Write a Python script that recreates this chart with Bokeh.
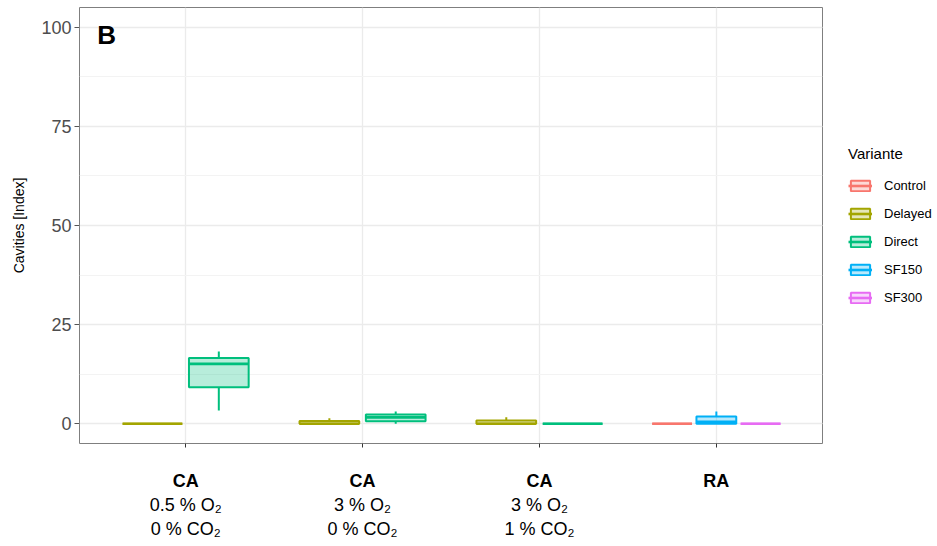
from bokeh.plotting import figure
from bokeh.models import (ColumnDataSource, Range1d, FixedTicker, SingleIntervalTicker,
                          LinearAxis, Legend, LegendItem, Label)
from bokeh.embed import file_html
from bokeh.resources import INLINE

# Storage conditions (x categories)
condition_heads = ["CA", "CA", "CA", "RA"]
condition_details = ["0.5 % O₂\n0 % CO₂", "3 % O₂\n0 % CO₂", "3 % O₂\n1 % CO₂", ""]
condition_pos = [1, 2, 3, 4]

# Treatment variants and their colours
variants = ["Control", "Delayed", "Direct", "SF150", "SF300"]
variant_colors = ["#F8766D", "#A3A500", "#00BF7D", "#00B0F6", "#E76BF3"]

# Box statistics, one entry per box
box_condition = [1, 1, 2, 2, 3, 3, 4, 4, 4]
box_variant = ["Delayed", "Direct", "Delayed", "Direct", "Delayed", "Direct",
               "Control", "SF150", "SF300"]
box_lower = [0.0, 3.3, 0.0, 0.0, 0.0, 0.0, 0.0, 0.0, 0.0]
box_q1 = [0.0, 9.2, 0.0, 0.6, 0.0, 0.0, 0.0, 0.0, 0.0]
box_median = [0.0, 15.1, 0.0, 1.6, 0.0, 0.0, 0.0, 0.5, 0.0]
box_q3 = [0.0, 16.6, 0.7, 2.3, 0.8, 0.0, 0.0, 1.8, 0.0]
box_upper = [0.0, 18.2, 1.4, 3.1, 1.6, 0.0, 0.0, 3.1, 0.0]

y_ticks = [0, 25, 50, 75, 100]

FONT = "Liberation Sans"

# Dodge the boxes present in each condition side by side
DODGE = 0.75
box_x, box_w = [], []
for i, c in enumerate(box_condition):
    group = [j for j, cc in enumerate(box_condition) if cc == c]
    slot = DODGE / len(group)
    k = group.index(i)
    box_x.append(c - DODGE / 2 + slot * (k + 0.5))
    box_w.append(slot * 0.9)

p = figure(width=937, height=546, frame_width=743, frame_height=436,
           x_range=Range1d(0.4, 4.6), y_range=Range1d(-5, 105),
           output_backend="svg", toolbar_location=None,
           min_border_left=79, min_border_right=0,
           min_border_top=7, min_border_bottom=103,
           background_fill_color="white", border_fill_color="white")

p.outline_line_color = "#7F7F7F"
p.outline_line_width = 1

# Axes
yaxis = p.yaxis[0]
yaxis.ticker = SingleIntervalTicker(interval=25, num_minor_ticks=2)
yaxis.axis_label = "Cavities [Index]"
yaxis.axis_label_text_font = FONT
yaxis.axis_label_text_font_size = "14px"
yaxis.axis_label_text_font_style = "normal"
yaxis.axis_label_text_color = "black"
yaxis.axis_label_standoff = 11
yaxis.major_label_text_font = FONT
yaxis.major_label_text_font_size = "18px"
yaxis.major_label_text_color = "#4D4D4D"
yaxis.major_label_standoff = 3
yaxis.axis_line_color = None
yaxis.major_tick_line_color = "#555555"
yaxis.major_tick_in = 0
yaxis.major_tick_out = 5
yaxis.minor_tick_line_color = None

xaxis = p.xaxis[0]
xaxis.ticker = FixedTicker(ticks=condition_pos)
xaxis.major_label_overrides = {c: h for c, h in zip(condition_pos, condition_heads)}
xaxis.major_label_text_font = FONT
xaxis.major_label_text_font_size = "18px"
xaxis.major_label_text_font_style = "bold"
xaxis.major_label_text_color = "black"
xaxis.major_label_standoff = 23
xaxis.axis_line_color = None
xaxis.major_tick_line_color = "#333333"
xaxis.major_tick_in = 0
xaxis.major_tick_out = 4
xaxis.minor_tick_line_color = None

detail_axis = LinearAxis(
    ticker=FixedTicker(ticks=condition_pos),
    major_label_overrides={c: d for c, d in zip(condition_pos, condition_details)},
    major_label_text_font=FONT,
    major_label_text_font_size="18px",
    major_label_text_color="black",
    major_label_text_line_height=1.2,
    major_label_standoff=-5,
    axis_line_color=None,
    major_tick_line_color=None,
    minor_tick_line_color=None,
)
p.add_layout(detail_axis, "below")

# Grid
p.xgrid.grid_line_color = "#EBEBEB"
p.xgrid.grid_line_width = 1.3
p.ygrid.grid_line_color = "#EBEBEB"
p.ygrid.grid_line_width = 1.3
p.ygrid.minor_grid_line_color = "#F3F3F3"
p.ygrid.minor_grid_line_width = 1

# Boxplots, one set of renderers per variant
legend_items = []
for v, col in zip(variants, variant_colors):
    idx = [i for i, bv in enumerate(box_variant) if bv == v]
    src = ColumnDataSource(dict(
        x=[box_x[i] for i in idx],
        w=[box_w[i] for i in idx],
        left=[box_x[i] - box_w[i] / 2 for i in idx],
        right=[box_x[i] + box_w[i] / 2 for i in idx],
        lower=[box_lower[i] for i in idx],
        q1=[box_q1[i] for i in idx],
        med=[box_median[i] for i in idx],
        q3=[box_q3[i] for i in idx],
        upper=[box_upper[i] for i in idx],
    ))
    p.segment(x0="x", y0="q3", x1="x", y1="upper", source=src,
              line_color=col, line_width=2)
    p.segment(x0="x", y0="q1", x1="x", y1="lower", source=src,
              line_color=col, line_width=2)
    box = p.vbar(x="x", width="w", bottom="q1", top="q3", source=src,
                 fill_color=col, fill_alpha=0.28, line_color=col, line_width=2)
    med = p.segment(x0="left", y0="med", x1="right", y1="med", source=src,
                    line_color=col, line_width=2.6)
    legend_items.append(LegendItem(label=v, renderers=[box, med]))

legend = Legend(items=legend_items, location="center_left",
                title="Variante",
                title_text_font=FONT, title_text_font_size="15px",
                title_text_font_style="normal", title_text_color="black",
                title_standoff=16,
                label_text_font=FONT, label_text_font_size="13px",
                label_text_color="black",
                glyph_width=24, glyph_height=13, label_height=14,
                label_standoff=12, spacing=13, padding=6, margin=26,
                border_line_color=None, background_fill_alpha=0)
p.add_layout(legend, "right")

# Panel tag
p.add_layout(Label(x=p.x_range.start + 0.1, y=p.y_range.end - 7, text="B",
                   text_font=FONT, text_font_size="26px", text_font_style="bold",
                   text_color="black", text_align="left",
                   text_baseline="alphabetic"))

open("out.html", "w").write(file_html(p, INLINE))
